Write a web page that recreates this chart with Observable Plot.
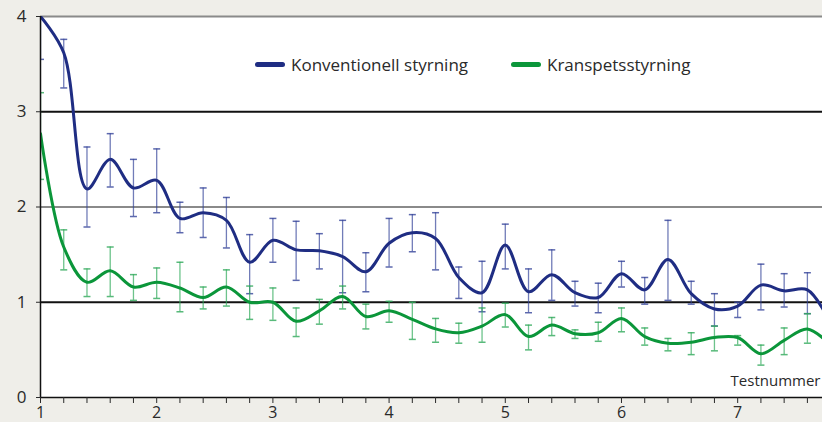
<!DOCTYPE html>
<html>
<head>
<meta charset="utf-8">
<script src="https://cdn.jsdelivr.net/npm/d3@7"></script>
<script src="https://cdn.jsdelivr.net/npm/@observablehq/plot@0.6"></script>
<style>
  html, body { margin: 0; padding: 0; background: #efeee9; }
  #wrap { position: relative; width: 822px; height: 422px; font-family: "Open Sans", sans-serif; color: #2a2a2a; }
  .leg { position: absolute; top: 52px; height: 24px; display: flex; align-items: center; font-size: 17px; white-space: nowrap; }
  .sw { display: inline-block; width: 30px; height: 5px; border-radius: 3px; margin-right: 6px; }
</style>
</head>
<body>
<div id="wrap"></div>
<script>
// Test numbers (x positions of measurements)
const tests = [1.0, 1.2, 1.4, 1.6, 1.8, 2.0, 2.2, 2.4, 2.6, 2.8, 3.0, 3.2, 3.4, 3.6, 3.8, 4.0, 4.2, 4.4, 4.6, 4.8,
               5.0, 5.2, 5.4, 5.6, 5.8, 6.0, 6.2, 6.4, 6.6, 6.8, 7.0, 7.2, 7.4, 7.6, 7.8];

// Konventionell styrning
const konv   = [4.00, 3.62, 2.19, 2.50, 2.20, 2.28, 1.88, 1.94, 1.86, 1.42, 1.65, 1.55, 1.54, 1.48, 1.32, 1.62, 1.73, 1.67, 1.26, 1.10,
                1.60, 1.11, 1.29, 1.10, 1.05, 1.30, 1.13, 1.45, 1.09, 0.93, 0.96, 1.18, 1.12, 1.13, 0.78];
const konvLo = [3.55, 3.25, 1.79, 2.21, 1.90, 1.94, 1.73, 1.68, 1.57, 1.09, 1.42, 1.23, 1.35, 1.10, 1.11, 1.37, 1.53, 1.34, 1.04, 0.90,
                1.35, 0.89, 1.02, 0.96, 0.89, 1.16, 0.98, 1.02, 0.98, 0.75, 0.84, 0.92, 0.95, 0.88, 0.60];
const konvHi = [4.45, 3.76, 2.63, 2.77, 2.50, 2.61, 2.05, 2.20, 2.10, 1.71, 1.88, 1.85, 1.72, 1.86, 1.52, 1.88, 1.92, 1.94, 1.37, 1.43,
                1.82, 1.35, 1.55, 1.22, 1.20, 1.43, 1.26, 1.86, 1.22, 1.09, 1.00, 1.40, 1.30, 1.31, 0.95];

// Kranspetsstyrning
const kran   = [2.77, 1.58, 1.21, 1.33, 1.16, 1.21, 1.15, 1.05, 1.16, 1.00, 1.00, 0.80, 0.91, 1.06, 0.85, 0.91, 0.82, 0.72, 0.68, 0.75,
                0.87, 0.64, 0.76, 0.67, 0.68, 0.83, 0.64, 0.57, 0.58, 0.63, 0.63, 0.46, 0.60, 0.72, 0.55];
const kranLo = [2.29, 1.34, 1.06, 1.06, 1.02, 1.04, 0.90, 0.93, 0.96, 0.82, 0.81, 0.64, 0.77, 0.93, 0.72, 0.79, 0.61, 0.58, 0.57, 0.58,
                0.74, 0.50, 0.65, 0.62, 0.59, 0.69, 0.55, 0.49, 0.45, 0.49, 0.55, 0.34, 0.45, 0.57, 0.40];
const kranHi = [3.20, 1.76, 1.35, 1.58, 1.29, 1.36, 1.42, 1.16, 1.34, 1.17, 1.15, 0.94, 1.03, 1.17, 0.98, 1.01, 1.00, 0.83, 0.78, 0.94,
                0.99, 0.76, 0.84, 0.71, 0.79, 0.94, 0.73, 0.62, 0.68, 0.75, 0.65, 0.55, 0.73, 0.88, 0.70];

const seriesNames = ["Konventionell styrning", "Kranspetsstyrning"];
const yTicks = [0, 1, 2, 3, 4];
const gridBlack = [1, 3];
const gridGray = [2, 4];
const xTicks = tests.filter(t => t <= 7.7);
const axisTitle = "Testnummer";

const blue = "#1f2d83", green = "#0b963a";
const blueBar = "#34449a", greenBar = "#2fa95a";

const dataK = tests.map((t, i) => ({t, v: konv[i], lo: konvLo[i], hi: konvHi[i]}));
const dataG = tests.map((t, i) => ({t, v: kran[i], lo: kranLo[i], hi: kranHi[i]}));

const cap = {
  draw(ctx, size) {
    const w = Math.sqrt(size / Math.PI);
    ctx.moveTo(-w, 0);
    ctx.lineTo(w, 0);
  }
};

function bars(data, color) {
  return [
    Plot.ruleX(data, {x: "t", y1: "lo", y2: "hi", stroke: color, strokeOpacity: 0.7, strokeWidth: 1.3, clip: true}),
    Plot.dot(data, {x: "t", y: "lo", symbol: cap, r: 3.5, fill: "none", stroke: color, strokeOpacity: 0.8, strokeWidth: 1.5, clip: true}),
    Plot.dot(data, {x: "t", y: "hi", symbol: cap, r: 3.5, fill: "none", stroke: color, strokeOpacity: 0.8, strokeWidth: 1.5, clip: true})
  ];
}

const intFmt = d => Math.abs(d - Math.round(d)) < 1e-6 ? String(Math.round(d)) : "";

const chart = Plot.plot({
  width: 822,
  height: 422,
  marginLeft: 40,
  marginRight: 0,
  marginTop: 16,
  marginBottom: 25,
  x: {domain: [1, 7.73]},
  y: {domain: [0, 4]},
  style: {background: "transparent", fontFamily: "Open Sans, sans-serif", fontSize: "16px", color: "#2a2a2a", overflow: "visible"},
  marks: [
    Plot.frame({fill: "white", stroke: null}),
    Plot.ruleY(gridGray, {stroke: "#8a8a8a", strokeWidth: 2}),
    Plot.ruleY(gridBlack, {stroke: "#111", strokeWidth: 2}),
    ...bars(dataK, blueBar),
    ...bars(dataG, greenBar),
    Plot.line(dataK, {x: "t", y: "v", curve: "catmull-rom", stroke: blue, strokeWidth: 3, clip: true}),
    Plot.line(dataG, {x: "t", y: "v", curve: "catmull-rom", stroke: green, strokeWidth: 3, clip: true}),
    Plot.ruleY([0], {stroke: "#111", strokeWidth: 1.5}),
    Plot.ruleX([1], {stroke: "#111", strokeWidth: 1.5}),
    Plot.axisY({ticks: yTicks, tickSize: 4, tickPadding: 10, fontSize: 17, label: null, tickFormat: intFmt}),
    Plot.axisX({ticks: xTicks, tickSize: 6, tickPadding: 3, fontSize: 16, label: null, tickFormat: intFmt}),
    Plot.text([axisTitle], {frameAnchor: "bottom-right", dx: -2, dy: -12, fontSize: 15, fill: "#2a2a2a"})
  ]
});

const wrap = document.getElementById("wrap");
wrap.appendChild(chart);

const legendItems = [
  {name: seriesNames[0], color: blue, left: 255},
  {name: seriesNames[1], color: green, left: 511}
];
for (const item of legendItems) {
  const d = document.createElement("div");
  d.className = "leg";
  d.style.left = item.left + "px";
  const sw = document.createElement("span");
  sw.className = "sw";
  sw.style.background = item.color;
  d.appendChild(sw);
  d.appendChild(document.createTextNode(item.name));
  wrap.appendChild(d);
}
</script>
</body>
</html>
